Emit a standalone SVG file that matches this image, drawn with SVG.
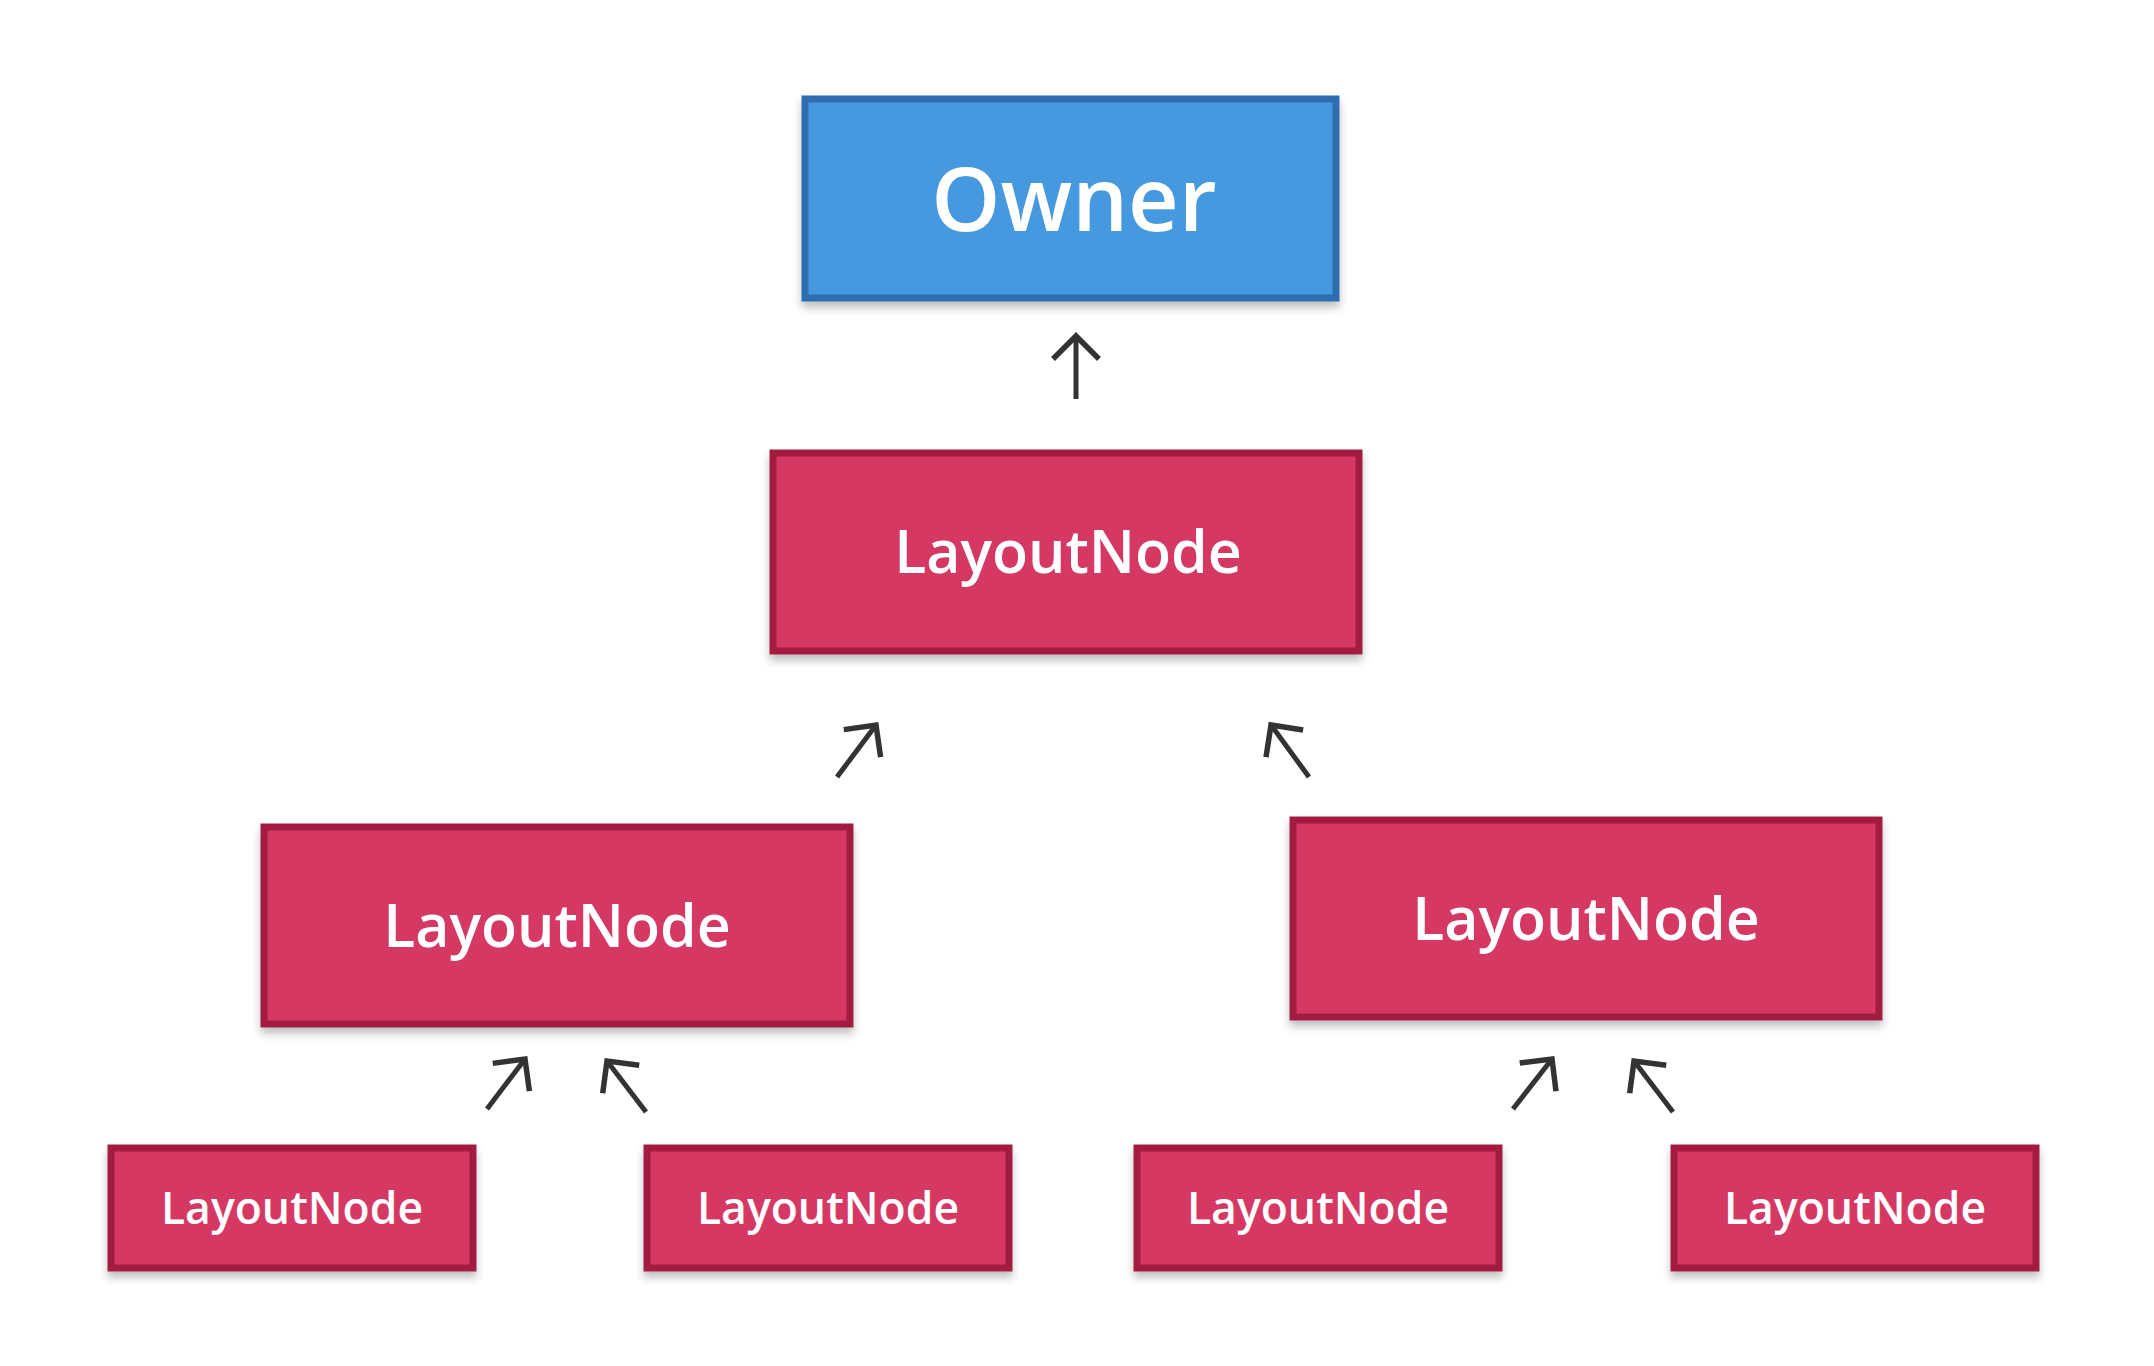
<svg xmlns="http://www.w3.org/2000/svg" width="2154" height="1366" viewBox="0 0 2154 1366">
<style>
.red{fill:#d43864;stroke:#a31f40;stroke-width:7}
.blue{fill:#4699df;stroke:#2e6db0;stroke-width:7}
.t{fill:#ffffff;font-family:"Open Sans","Noto Sans","DejaVu Sans",sans-serif;font-weight:600;text-anchor:middle}
.conn{stroke:#333333;stroke-width:5;fill:none}
</style>
<defs>
<filter id="sh" x="-10%" y="-10%" width="120%" height="130%">
<feDropShadow dx="0" dy="6" stdDeviation="4" flood-color="#000" flood-opacity="0.25"/>
</filter>
<marker id="ah" markerUnits="userSpaceOnUse" markerWidth="40" markerHeight="60" viewBox="-30 -30 40 60" refX="0" refY="0" orient="auto">
<path d="M-23,-23 L0,0 L-23,23" fill="none" stroke="#333333" stroke-width="5.5"/>
</marker>
</defs>
<rect width="2154" height="1366" fill="#ffffff"/>
<g id="owner"><rect class="blue" filter="url(#sh)" x="805" y="99" width="531" height="199"/><text class="t" x="1074" y="231" font-size="88">Owner</text></g>
<g id="ln-root"><rect class="red" filter="url(#sh)" x="773" y="453" width="586" height="198"/><text class="t" x="1068" y="573" font-size="59">LayoutNode</text></g>
<g id="ln-left"><rect class="red" filter="url(#sh)" x="264" y="827" width="586" height="197"/><text class="t" x="557" y="947" font-size="59">LayoutNode</text></g>
<g id="ln-right"><rect class="red" filter="url(#sh)" x="1293" y="820" width="586" height="197"/><text class="t" x="1586" y="940" font-size="59">LayoutNode</text></g>
<g id="ln-ll"><rect class="red" filter="url(#sh)" x="111" y="1148" width="362" height="120"/><text class="t" x="292" y="1224" font-size="44.5">LayoutNode</text></g>
<g id="ln-lr"><rect class="red" filter="url(#sh)" x="647" y="1148" width="362" height="120"/><text class="t" x="828" y="1224" font-size="44.5">LayoutNode</text></g>
<g id="ln-rl"><rect class="red" filter="url(#sh)" x="1137" y="1148" width="362" height="120"/><text class="t" x="1318" y="1224" font-size="44.5">LayoutNode</text></g>
<g id="ln-rr"><rect class="red" filter="url(#sh)" x="1674" y="1148" width="362" height="120"/><text class="t" x="1855" y="1224" font-size="44.5">LayoutNode</text></g>
<g id="connectors">
<line class="conn" marker-end="url(#ah)" x1="1076" y1="399" x2="1076" y2="336"/>
<line class="conn" marker-end="url(#ah)" x1="837" y1="777" x2="876" y2="725"/>
<line class="conn" marker-end="url(#ah)" x1="1309" y1="777" x2="1271" y2="725"/>
<line class="conn" marker-end="url(#ah)" x1="487" y1="1109" x2="525" y2="1059"/>
<line class="conn" marker-end="url(#ah)" x1="646" y1="1112" x2="607" y2="1061"/>
<line class="conn" marker-end="url(#ah)" x1="1513" y1="1109" x2="1552" y2="1059"/>
<line class="conn" marker-end="url(#ah)" x1="1673" y1="1112" x2="1634" y2="1061"/>
</g>
</svg>
